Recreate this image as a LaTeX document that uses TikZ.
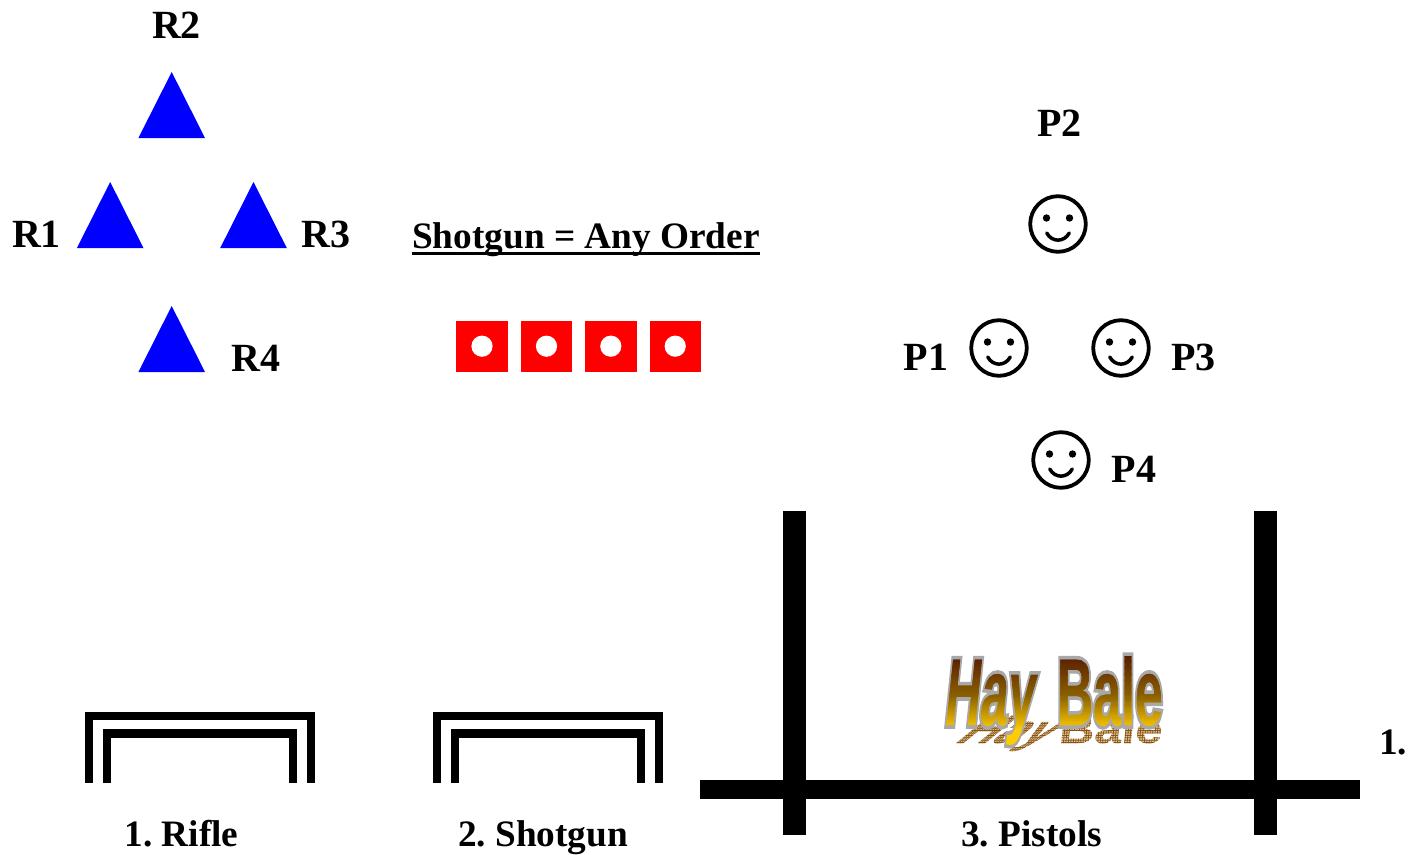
\documentclass[tikz,border=0pt]{standalone}
\usepackage{fontspec}
\setmainfont{Liberation Serif}
\newfontfamily\wordart{Liberation Sans}[BoldFont={Liberation Sans Bold}]
\definecolor{tri}{RGB}{0,0,255}
\definecolor{tgt}{RGB}{255,0,0}
\definecolor{gradA}{RGB}{88,28,0}
\definecolor{gradB}{RGB}{138,96,0}
\definecolor{gradC}{RGB}{255,204,0}
\definecolor{hatchbg}{RGB}{226,200,150}
\definecolor{hatchfg}{RGB}{135,85,25}
\newcommand\gradtext[1]{\special{x:gsave}\special{pdf:code 5 Tr 8 w 0.66 0.66 0.67 RG}\rlap{#1}\special{pdf:code 0 Tr}%
\foreach \i in {0,...,83}{\pgfmathsetmacro\yy{-26+\i*1.25}\pgfmathsetmacro\mixa{min(100,max(0,(\yy-30)*100/43))}\pgfmathsetmacro\mixb{min(100,max(0,(\yy+6)*100/36))}%
\ifdim\yy pt>30pt\relax\color{gradA!\mixa!gradB}\else\color{gradB!\mixb!gradC}\fi\rlap{\rule[\yy pt]{260pt}{3.2pt}}}%
\special{x:grestore}}
\newcommand\hatchtext[1]{\special{x:gsave}\special{pdf:code 7 Tr}\rlap{#1}\special{pdf:code 0 Tr}%
{\color{hatchbg}\rlap{\rule[-30pt]{300pt}{130pt}}}%
{\color{hatchfg}\foreach \i in {0,...,21}{\pgfmathsetmacro\yy{-30+\i*6}\rlap{\rule[\yy pt]{300pt}{2pt}}}%
\foreach \i in {0,...,60}{\rlap{\hspace*{\i\dimexpr 5pt\relax}\rule[-30pt]{1.6pt}{130pt}}}}%
\special{x:grestore}}
\tikzset{
 lab/.style={font=\fontsize{40}{40}\selectfont\bfseries\frenchspacing,inner sep=0pt,anchor=base,text=black},
 captext/.style={font=\fontsize{37.3}{37.3}\selectfont\bfseries\frenchspacing,inner sep=0pt,anchor=base,text=black},
 triangle/.style={fill=tri,draw=none},
 tsq/.style={fill=tgt,draw=none},
 hole/.style={fill=white,draw=none},
 bar/.style={fill=black,draw=none},
 brk/.style={draw=black,line width=8.3pt,line cap=butt,line join=miter},
 face/.style={draw=black,line width=3.8pt,fill=none},
 feature/.style={draw=black,line width=3.5pt,line cap=round},
 art/.style={inner sep=0pt,anchor=base west,transform shape,font=\fontsize{100}{100}\selectfont\wordart\bfseries},
 pics/smile/.style={code={
   \draw[face] (0,0) circle (27.8);
   \fill (-11.5,-6) circle (3.7);
   \fill (11.5,-6) circle (3.7);
   \draw[feature] (-11.3,9) .. controls (-6,18.5) and (6,18.5) .. (11.3,9);
 }},
 pics/target/.style={code={
   \fill[tsq] (-25.7,-25.5) rectangle (25.7,25.5);
   \fill[hole] (0,0) circle (10.6);
 }},
 pics/tri/.style={code={
   \fill[triangle] (0,-33) -- (33.3,33) -- (-33.3,33) -- cycle;
 }},
 pics/port/.style={code={
   \draw[brk] (4.15,71) -- (4.15,4.15) -- (225.85,4.15) -- (225.85,71);
   \draw[brk] (22,71) -- (22,21.5) -- (208,21.5) -- (208,71);
 }},
}
\begin{document}
\begin{tikzpicture}[x=1pt,y=-1pt]
\useasboundingbox (0,0) rectangle (1418,854);
% triangles
\pic at (171.7,105) {tri};
\pic at (110.2,215) {tri};
\pic at (253.5,215) {tri};
\pic at (171.7,339) {tri};
\node[lab] (r2) at (176.5,38) {R2};
\node[lab] (r1) at (36.5,247.5) {R1};
\node[lab] (r3) at (326,247.5) {R3};
\node[lab] (r4) at (255.8,371.5) {R4};
% shotgun
\node[captext] (any) at (586,248) {Shotgun = Any Order};
\draw[line width=3pt] ([yshift=-5.5pt]any.base west) -- ([yshift=-5.5pt]any.base east);
\pic at (482,346.2) {target};
\pic at (546.5,346.2) {target};
\pic at (610.8,346.2) {target};
\pic at (675.2,346.2) {target};
% pistols
\pic at (1058,224) {smile};
\pic at (999,348) {smile};
\pic at (1121,348) {smile};
\pic at (1061,460) {smile};
\node[lab] (p2) at (1059.5,136.5) {P2};
\node[lab] (p1) at (926,370.5) {P1};
\node[lab] (p3) at (1193.5,370.5) {P3};
\node[lab] (p4) at (1134,482.5) {P4};
% shooting bays
\pic at (85,712) {port};
\pic at (433,712) {port};
\fill[bar] (783,511) rectangle (806,835);
\fill[bar] (1254,511) rectangle (1277,835);
\fill[bar] (700,780) rectangle (1360,799);
\node[captext] (s1) at (181.5,846) {1. Rifle};
\node[captext] (s2) at (543,846) {2. Shotgun};
\node[captext] (s3) at (1031.5,846) {3. Pistols};
\node[captext,anchor=base west] (s4) at (1379,754) {1.};
% hay bale
\node[art,xscale=.49,yscale=.4,xslant=1] (shadowa) at (953,743) {\hatchtext{Hay}\phantom{Hay}};
\node[art,xscale=.49,yscale=.4,xslant=.08] (shadowb) at (1058,743) {\hatchtext{Bale}\phantom{Bale}};
\node[art,xscale=.49,yscale=.95,xslant=.2] (hay) at (943,725) {\gradtext{Hay}\phantom{Hay}};
\node[art,xscale=.5,yscale=.95] (bale) at (1057,725) {\gradtext{Bale}\phantom{Bale}};
\end{tikzpicture}
\end{document}
